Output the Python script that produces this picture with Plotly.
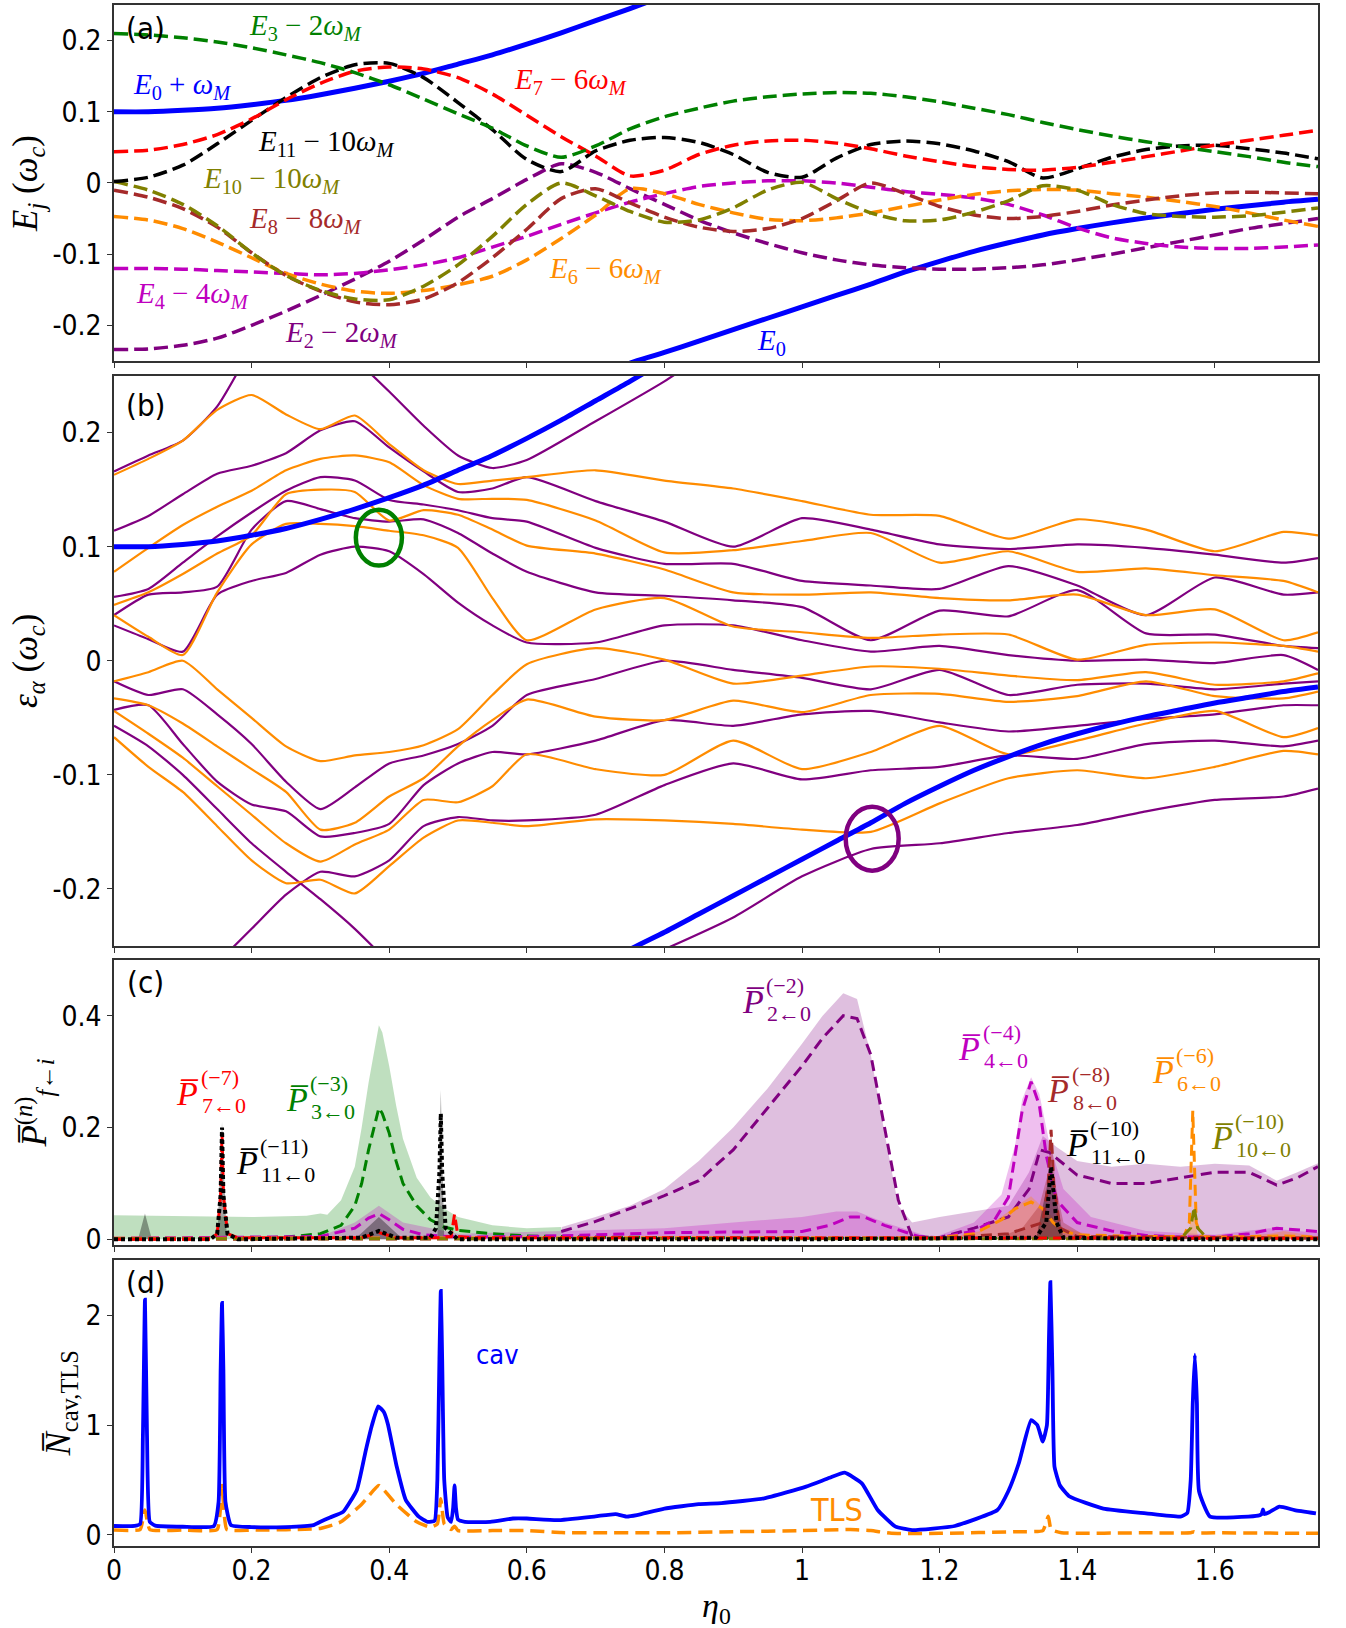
import plotly.graph_objects as go

# ======================= DATA =======================
# ---- panel (a): quasi-energies E_j - n*omega_M ----
ETA_A = [0.00, 0.05, 0.10, 0.15, 0.20, 0.25, 0.30, 0.35, 0.40, 0.45, 0.50, 0.55,
         0.60, 0.65, 0.70, 0.75, 0.80, 0.85, 0.90, 0.95, 1.00, 1.05, 1.10, 1.15,
         1.20, 1.25, 1.30, 1.35, 1.40, 1.45, 1.50, 1.55, 1.60, 1.65, 1.70, 1.75]
E3_2W = [0.210, 0.208, 0.204, 0.198, 0.190, 0.180, 0.169, 0.155, 0.138, 0.118, 0.097, 0.077,
         0.052, 0.036, 0.052, 0.076, 0.093, 0.105, 0.115, 0.121, 0.125, 0.127, 0.126, 0.121,
         0.114, 0.105, 0.096, 0.085, 0.075, 0.066, 0.058, 0.051, 0.044, 0.037, 0.029, 0.023]
E7_6W = [0.044, 0.046, 0.054, 0.068, 0.090, 0.117, 0.140, 0.157, 0.163, 0.160, 0.148, 0.125,
         0.095, 0.065, 0.038, 0.010, 0.018, 0.040, 0.053, 0.059, 0.060, 0.056, 0.048, 0.038,
         0.030, 0.023, 0.019, 0.018, 0.022, 0.029, 0.037, 0.045, 0.053, 0.060, 0.067, 0.074]
E11_10W = [0.002, 0.008, 0.025, 0.055, 0.088, 0.120, 0.148, 0.166, 0.168, 0.148, 0.113, 0.075,
           0.033, 0.016, 0.045, 0.060, 0.064, 0.057, 0.040, 0.015, 0.008, 0.035, 0.054, 0.059,
           0.055, 0.045, 0.030, 0.007, 0.020, 0.036, 0.047, 0.052, 0.053, 0.048, 0.042, 0.034]
E10_10W = [0.002, -0.010, -0.030, -0.060, -0.098, -0.130, -0.151, -0.163, -0.164, -0.145, -0.115, -0.075,
           -0.030, 0.000, -0.018, -0.040, -0.055, -0.052, -0.035, -0.010, 0.001, -0.022, -0.042, -0.053,
           -0.052, -0.041, -0.025, -0.004, -0.010, -0.030, -0.043, -0.047, -0.048, -0.046, -0.041, -0.035]
E8_8W = [-0.010, -0.020, -0.036, -0.062, -0.098, -0.130, -0.152, -0.167, -0.171, -0.163, -0.140, -0.105,
         -0.065, -0.022, -0.008, -0.028, -0.048, -0.062, -0.068, -0.064, -0.050, -0.025, 0.000, -0.015,
         -0.033, -0.045, -0.050, -0.047, -0.040, -0.031, -0.024, -0.018, -0.014, -0.013, -0.014, -0.015]
E6_6W = [-0.047, -0.052, -0.064, -0.083, -0.105, -0.127, -0.142, -0.152, -0.155, -0.151, -0.143, -0.131,
         -0.108, -0.078, -0.045, -0.008, -0.015, -0.030, -0.042, -0.051, -0.053, -0.049, -0.042, -0.033,
         -0.024, -0.016, -0.011, -0.009, -0.010, -0.015, -0.020, -0.026, -0.033, -0.042, -0.052, -0.061]
E4_4W = [-0.120, -0.120, -0.121, -0.123, -0.125, -0.127, -0.129, -0.127, -0.122, -0.115, -0.105, -0.090,
         -0.075, -0.058, -0.042, -0.027, -0.015, -0.005, 0.000, 0.003, 0.003, 0.000, -0.006, -0.012,
         -0.016, -0.021, -0.030, -0.045, -0.063, -0.077, -0.085, -0.090, -0.092, -0.092, -0.090, -0.087]
E2_2W = [-0.234, -0.233, -0.228, -0.218, -0.200, -0.180, -0.158, -0.135, -0.110, -0.080, -0.048, -0.022,
         0.005, 0.027, 0.015, -0.008, -0.030, -0.052, -0.070, -0.085, -0.098, -0.108, -0.115, -0.119,
         -0.121, -0.121, -0.119, -0.115, -0.108, -0.100, -0.091, -0.082, -0.073, -0.064, -0.057, -0.050]
E0_PLUS_X = [0.00, 0.05, 0.10, 0.15, 0.20, 0.25, 0.30, 0.35, 0.40, 0.45, 0.50, 0.55,
             0.60, 0.65, 0.70, 0.75, 0.80, 0.85, 0.90]
E0_PLUS_Y = [0.100, 0.100, 0.102, 0.105, 0.110, 0.116, 0.124, 0.133, 0.143, 0.154, 0.167, 0.180,
             0.195, 0.211, 0.228, 0.245, 0.263, 0.282, 0.300]
E0_X = [0.70, 0.75, 0.80, 0.85, 0.90, 0.95, 1.00, 1.05, 1.10, 1.15, 1.20,
        1.25, 1.30, 1.35, 1.40, 1.45, 1.50, 1.55, 1.60, 1.65, 1.70, 1.75]
E0_Y = [-0.270, -0.253, -0.238, -0.222, -0.206, -0.190, -0.174, -0.158, -0.142, -0.125, -0.110,
        -0.096, -0.084, -0.073, -0.064, -0.056, -0.049, -0.043, -0.037, -0.032, -0.027, -0.023]

# ---- panel (b): Floquet quasi-energies (two symmetry sectors) ----
ETA_B = [0.00, 0.05, 0.10, 0.15, 0.20, 0.25, 0.30, 0.35, 0.40, 0.45, 0.50, 0.55, 0.60,
         0.70, 0.80, 0.90, 1.00, 1.10, 1.20, 1.30, 1.40, 1.50, 1.60, 1.70, 1.75]
ORANGE_LEVELS = [
    [0.163, 0.177, 0.193, 0.220, 0.233, 0.216, 0.203, 0.215, 0.190, 0.167, 0.155, 0.158, 0.161,
     0.167, 0.158, 0.151, 0.140, 0.128, 0.127, 0.107, 0.124, 0.115, 0.096, 0.113, 0.110],
    [0.078, 0.099, 0.119, 0.135, 0.149, 0.167, 0.177, 0.180, 0.174, 0.154, 0.142, 0.142, 0.141,
     0.123, 0.095, 0.097, 0.105, 0.112, 0.086, 0.096, 0.078, 0.081, 0.075, 0.070, 0.060],
    [0.049, 0.060, 0.076, 0.094, 0.110, 0.146, 0.150, 0.148, 0.123, 0.132, 0.128, 0.115, 0.101,
     0.094, 0.080, 0.060, 0.058, 0.060, 0.055, 0.053, 0.058, 0.040, 0.045, 0.018, 0.025],
    [0.040, 0.021, 0.005, 0.060, 0.102, 0.120, 0.120, 0.118, 0.114, 0.110, 0.099, 0.055, 0.018,
     0.045, 0.055, 0.030, 0.025, 0.020, 0.023, 0.023, 0.001, 0.014, 0.016, 0.013, 0.008],
    [-0.018, -0.010, 0.000, -0.025, -0.050, -0.075, -0.088, -0.083, -0.080, -0.074, -0.060, -0.030, -0.003,
     0.011, 0.001, -0.020, -0.013, -0.005, -0.007, -0.013, -0.017, -0.010, -0.021, -0.018, -0.011],
    [-0.033, -0.039, -0.055, -0.075, -0.095, -0.115, -0.148, -0.142, -0.119, -0.103, -0.075, -0.052, -0.034,
     -0.049, -0.052, -0.035, -0.045, -0.030, -0.029, -0.036, -0.031, -0.018, -0.031, -0.033, -0.027],
    [-0.044, -0.064, -0.085, -0.110, -0.135, -0.160, -0.176, -0.161, -0.148, -0.122, -0.124, -0.110, -0.082,
     -0.095, -0.100, -0.070, -0.095, -0.080, -0.057, -0.082, -0.070, -0.055, -0.044, -0.067, -0.059],
    [-0.067, -0.093, -0.115, -0.145, -0.175, -0.195, -0.192, -0.204, -0.180, -0.155, -0.140, -0.142, -0.145,
     -0.139, -0.140, -0.143, -0.148, -0.150, -0.125, -0.103, -0.096, -0.103, -0.093, -0.079, -0.082],
]
PURPLE_LEVELS = [
    [0.114, 0.127, 0.146, 0.164, 0.171, 0.182, 0.202, 0.210, 0.187, 0.166, 0.148, 0.151, 0.161,
     0.140, 0.122, 0.100, 0.125, 0.115, 0.102, 0.098, 0.102, 0.099, 0.093, 0.086, 0.090],
    [0.056, 0.063, 0.086, 0.109, 0.130, 0.149, 0.161, 0.158, 0.141, 0.137, 0.132, 0.125, 0.122,
     0.099, 0.085, 0.085, 0.070, 0.066, 0.063, 0.083, 0.066, 0.040, 0.073, 0.058, 0.060],
    [0.040, 0.058, 0.060, 0.065, 0.115, 0.140, 0.133, 0.125, 0.122, 0.124, 0.112, 0.094, 0.078,
     0.060, 0.057, 0.053, 0.047, 0.018, 0.044, 0.039, 0.062, 0.024, 0.023, 0.013, 0.011],
    [0.031, 0.019, 0.008, 0.058, 0.070, 0.077, 0.093, 0.100, 0.096, 0.076, 0.051, 0.031, 0.016,
     0.016, 0.031, 0.031, 0.018, 0.008, 0.013, 0.005, 0.000, 0.001, -0.002, 0.005, -0.008],
    [-0.018, -0.030, -0.025, -0.047, -0.073, -0.106, -0.130, -0.111, -0.090, -0.083, -0.073, -0.057, -0.030,
     -0.016, 0.000, -0.008, -0.015, -0.025, -0.008, -0.030, -0.021, -0.020, -0.025, -0.020, -0.018],
    [-0.043, -0.039, -0.073, -0.106, -0.126, -0.132, -0.154, -0.151, -0.143, -0.109, -0.090, -0.080, -0.082,
     -0.070, -0.052, -0.057, -0.047, -0.044, -0.054, -0.062, -0.057, -0.051, -0.047, -0.039, -0.039],
    [None, None, None, -0.265, -0.235, -0.205, -0.185, -0.189, -0.175, -0.145, -0.137, -0.140, -0.140,
     -0.135, -0.109, -0.090, -0.104, -0.096, -0.093, -0.083, -0.086, -0.073, -0.070, -0.075, -0.070],
]
PURPLE_STEEP = [
    ([0.00, 0.05, 0.10, 0.15, 0.20, 0.25], [0.166, 0.180, 0.193, 0.223, 0.275, 0.330]),
    ([0.00, 0.05, 0.10, 0.15, 0.20, 0.25, 0.30, 0.35, 0.40],
     [-0.057, -0.075, -0.100, -0.130, -0.160, -0.185, -0.209, -0.235, -0.265]),
    ([0.35, 0.40, 0.45, 0.50, 0.55, 0.60, 0.70, 0.80, 0.85],
     [0.265, 0.236, 0.206, 0.180, 0.169, 0.176, 0.210, 0.245, 0.265]),
    ([0.80, 0.90, 1.00, 1.10, 1.20, 1.30, 1.40, 1.50, 1.60, 1.70, 1.75],
     [-0.253, -0.225, -0.189, -0.165, -0.160, -0.151, -0.144, -0.132, -0.122, -0.119, -0.112]),
]
# circled avoided crossings (centre eta, centre energy)
CIRCLE_GREEN = (0.385, 0.108)
CIRCLE_PURPLE = (1.102, -0.156)

# ---- panel (c): transition probabilities ----
P3_FILL_X = [0, 0.1, 0.2, 0.28, 0.30, 0.31, 0.33, 0.35, 0.36, 0.37, 0.38, 0.385, 0.39, 0.40, 0.41,
             0.42, 0.44, 0.46, 0.48, 0.50, 0.55, 0.60, 0.65, 0.651]
P3_FILL_Y = [0.043, 0.041, 0.040, 0.042, 0.046, 0.044, 0.070, 0.130, 0.200, 0.280, 0.350, 0.383, 0.370,
             0.310, 0.240, 0.180, 0.110, 0.075, 0.055, 0.040, 0.025, 0.020, 0.022, 0.0]
P3_X = [0, 0.20, 0.25, 0.30, 0.33, 0.35, 0.36, 0.37, 0.38, 0.385, 0.39, 0.40, 0.41, 0.42, 0.44, 0.46,
        0.48, 0.50, 0.55, 0.60, 0.70, 0.80, 1.00, 1.20, 1.40, 1.60, 1.75]
P3_Y = [0.001, 0.002, 0.004, 0.010, 0.025, 0.060, 0.100, 0.160, 0.210, 0.235, 0.225, 0.190, 0.140,
        0.100, 0.060, 0.035, 0.022, 0.016, 0.010, 0.006, 0.004, 0.003, 0.002, 0.002, 0.002, 0.002, 0.002]
P2_FILL_X = [0.65, 0.651, 0.70, 0.75, 0.80, 0.85, 0.90, 0.95, 1.00, 1.03, 1.06, 1.08, 1.10, 1.12, 1.14,
             1.16, 1.20, 1.25, 1.30, 1.33, 1.35, 1.37, 1.40, 1.45, 1.50, 1.55, 1.60, 1.65, 1.69, 1.72, 1.75]
P2_FILL_Y = [0.0, 0.022, 0.040, 0.060, 0.090, 0.140, 0.200, 0.270, 0.350, 0.400, 0.440, 0.430, 0.330,
             0.190, 0.060, 0.030, 0.040, 0.050, 0.060, 0.120, 0.185, 0.165, 0.140, 0.130, 0.135, 0.130,
             0.135, 0.132, 0.105, 0.120, 0.136]
P2_X = [0.65, 0.70, 0.75, 0.80, 0.85, 0.90, 0.95, 1.00, 1.03, 1.06, 1.08, 1.10, 1.12, 1.14, 1.16, 1.20,
        1.25, 1.30, 1.33, 1.346, 1.36, 1.38, 1.40, 1.45, 1.50, 1.55, 1.60, 1.65, 1.69, 1.72, 1.75]
P2_Y = [0.014, 0.032, 0.055, 0.078, 0.105, 0.160, 0.235, 0.310, 0.360, 0.400, 0.395, 0.330, 0.200,
        0.070, 0.005, 0.003, 0.020, 0.040, 0.090, 0.160, 0.155, 0.135, 0.115, 0.100, 0.100, 0.110,
        0.120, 0.120, 0.097, 0.110, 0.130]
P4_FILL_X = [0.30, 0.35, 0.385, 0.42, 0.50, 0.80, 0.90, 1.00, 1.05, 1.08, 1.12, 1.19, 1.25, 1.29, 1.31,
             1.32, 1.333, 1.345, 1.36, 1.38, 1.42, 1.50, 1.60, 1.68, 1.72, 1.75]
P4_FILL_Y = [0.005, 0.030, 0.060, 0.030, 0.010, 0.020, 0.030, 0.040, 0.050, 0.050, 0.030, 0.003, 0.030,
             0.080, 0.170, 0.250, 0.290, 0.260, 0.170, 0.090, 0.040, 0.015, 0.008, 0.020, 0.015, 0.012]
P4_X = [0, 0.30, 0.35, 0.37, 0.385, 0.40, 0.42, 0.45, 0.50, 0.60, 0.70, 0.80, 0.90, 1.00, 1.04, 1.07,
        1.09, 1.12, 1.17, 1.20, 1.25, 1.28, 1.30, 1.31, 1.32, 1.333, 1.345, 1.355, 1.37, 1.40, 1.45,
        1.50, 1.55, 1.60, 1.65, 1.69, 1.75]
P4_Y = [0.002, 0.005, 0.020, 0.038, 0.046, 0.035, 0.018, 0.008, 0.004, 0.005, 0.008, 0.012, 0.013,
        0.014, 0.025, 0.040, 0.040, 0.025, 0.005, 0.003, 0.015, 0.035, 0.075, 0.150, 0.230, 0.282,
        0.240, 0.150, 0.070, 0.030, 0.015, 0.007, 0.004, 0.004, 0.010, 0.020, 0.014]
P6_FILL_X = [1.20, 1.26, 1.30, 1.333, 1.36, 1.38, 1.42, 1.50, 1.56, 1.568, 1.576, 1.60, 1.68, 1.70, 1.75]
P6_FILL_Y = [0.0, 0.015, 0.050, 0.077, 0.045, 0.020, 0.008, 0.003, 0.003, 0.050, 0.003, 0.002, 0.010,
             0.015, 0.005]
P6_X = [0, 1.20, 1.25, 1.29, 1.31, 1.333, 1.35, 1.365, 1.38, 1.40, 1.50, 1.555, 1.563, 1.568, 1.573,
        1.58, 1.60, 1.70, 1.75]
P6_Y = [0.002, 0.003, 0.010, 0.035, 0.055, 0.067, 0.055, 0.030, 0.015, 0.008, 0.005, 0.005, 0.030,
        0.230, 0.030, 0.005, 0.004, 0.006, 0.004]
P11_FILL_X = [0, 0.035, 0.045, 0.055, 0.15, 0.157, 0.164, 0.35, 0.385, 0.42, 0.47, 0.475, 0.48, 0.49,
              1.34, 1.362, 1.38, 1.75]
P11_FILL_Y = [0, 0, 0.046, 0, 0, 0.210, 0, 0, 0.040, 0, 0, 0.267, 0, 0, 0, 0.130, 0, 0]
P11_X = [0, 0.14, 0.15, 0.155, 0.157, 0.159, 0.165, 0.18, 0.36, 0.385, 0.41, 0.46, 0.468, 0.473, 0.475,
         0.477, 0.482, 0.50, 1.00, 1.34, 1.355, 1.362, 1.37, 1.38, 1.55, 1.75]
P11_Y = [0, 0, 0.010, 0.080, 0.200, 0.080, 0.010, 0, 0.003, 0.015, 0.003, 0.003, 0.020, 0.120, 0.225,
         0.120, 0.020, 0, 0, 0.003, 0.030, 0.130, 0.030, 0.003, 0, 0]
P7_X = [0, 0.14, 0.15, 0.155, 0.157, 0.159, 0.165, 0.18, 0.36, 0.385, 0.41, 0.47, 0.49, 0.495, 0.50,
        0.52, 1.75]
P7_Y = [0, 0, 0.010, 0.080, 0.190, 0.080, 0.010, 0.003, 0.003, 0.012, 0.003, 0.003, 0.005, 0.045,
        0.005, 0.003, 0.002]
P8_FILL_X = [1.28, 1.32, 1.345, 1.358, 1.362, 1.368, 1.38, 1.42]
P8_FILL_Y = [0, 0.020, 0.060, 0.120, 0.200, 0.100, 0.030, 0]
P8_X = [0, 1.20, 1.30, 1.35, 1.358, 1.362, 1.366, 1.375, 1.40, 1.75]
P8_Y = [0, 0.002, 0.010, 0.030, 0.100, 0.196, 0.100, 0.020, 0.005, 0.002]
P10_X = [0, 1.55, 1.565, 1.57, 1.575, 1.59, 1.75]
P10_Y = [0.001, 0.001, 0.020, 0.058, 0.020, 0.001, 0.001]

# ---- panel (d): mean photon / excitation numbers ----
CAV_X = [0, 0.03, 0.038, 0.042, 0.045, 0.048, 0.052, 0.06, 0.10, 0.145, 0.152, 0.155, 0.157, 0.159,
         0.162, 0.17, 0.20, 0.25, 0.29, 0.30, 0.314, 0.333, 0.353, 0.366, 0.375, 0.384, 0.392, 0.398,
         0.411, 0.424, 0.443, 0.456, 0.466, 0.470, 0.473, 0.475, 0.477, 0.48, 0.485, 0.49, 0.493, 0.495,
         0.497, 0.50, 0.51, 0.547, 0.58, 0.60, 0.644, 0.70, 0.729, 0.745, 0.76, 0.80, 0.85, 0.883, 0.945,
         1.006, 1.04, 1.062, 1.087, 1.11, 1.136, 1.16, 1.222, 1.284, 1.30, 1.315, 1.333, 1.342, 1.35,
         1.356, 1.359, 1.361, 1.364, 1.367, 1.375, 1.389, 1.438, 1.50, 1.55, 1.56, 1.565, 1.568, 1.571,
         1.574, 1.577, 1.593, 1.66, 1.668, 1.67, 1.672, 1.68, 1.694, 1.716, 1.747]
CAV_Y = [0.082, 0.082, 0.10, 0.90, 2.14, 0.90, 0.12, 0.085, 0.075, 0.08, 0.30, 1.50, 2.11, 1.50,
         0.30, 0.09, 0.072, 0.072, 0.09, 0.12, 0.16, 0.21, 0.41, 0.77, 1.00, 1.17, 1.12, 1.01,
         0.62, 0.32, 0.167, 0.12, 0.13, 0.50, 1.60, 2.22, 1.60, 0.50, 0.16, 0.12, 0.25, 0.45,
         0.25, 0.14, 0.12, 0.12, 0.15, 0.15, 0.135, 0.17, 0.19, 0.167, 0.18, 0.24, 0.28, 0.29, 0.333,
         0.44, 0.52, 0.567, 0.47, 0.227, 0.076, 0.045, 0.082, 0.227, 0.40, 0.65, 1.045, 1.00, 0.85,
         1.00, 1.80, 2.30, 1.50, 0.62, 0.45, 0.35, 0.24, 0.197, 0.167, 0.20, 0.50, 1.20, 1.64,
         1.20, 0.40, 0.167, 0.173, 0.19, 0.233, 0.19, 0.21, 0.258, 0.227, 0.197]
TLS_X = [0, 0.038, 0.045, 0.052, 0.10, 0.15, 0.157, 0.164, 0.20, 0.30, 0.33, 0.36, 0.385, 0.41, 0.44,
         0.46, 0.47, 0.475, 0.48, 0.49, 0.495, 0.50, 0.55, 0.60, 0.65, 0.70, 0.80, 0.90, 1.00, 1.07,
         1.10, 1.13, 1.20, 1.315, 1.35, 1.358, 1.362, 1.377, 1.50, 1.565, 1.57, 1.575, 1.60, 1.75]
TLS_Y = [0.045, 0.05, 0.227, 0.05, 0.045, 0.05, 0.45, 0.05, 0.045, 0.06, 0.12, 0.28, 0.45, 0.28, 0.12,
         0.07, 0.10, 0.33, 0.10, 0.05, 0.08, 0.04, 0.04, 0.04, 0.022, 0.02, 0.02, 0.03, 0.04, 0.05,
         0.04, 0.015, 0.015, 0.03, 0.04, 0.17, 0.05, 0.02, 0.02, 0.02, 0.03, 0.02, 0.02, 0.015]

X_TICKS = [0, 0.2, 0.4, 0.6, 0.8, 1.0, 1.2, 1.4, 1.6]
X_TICKTEXT = ["0", "0.2", "0.4", "0.6", "0.8", "1", "1.2", "1.4", "1.6"]
E_TICKS = [-0.2, -0.1, 0, 0.1, 0.2]
E_TICKTEXT = ["-0.2", "-0.1", "0", "0.1", "0.2"]
P_TICKS = [0, 0.2, 0.4]
P_TICKTEXT = ["0", "0.2", "0.4"]
N_TICKS = [0, 1, 2]
N_TICKTEXT = ["0", "1", "2"]

# ======================= STYLE =======================
PURPLE = '#800080'; ORANGE = '#ff8c00'; BLUE = '#0000ff'; GREEN = '#008000'
RED = '#ff0000'; BLACK = '#000000'; OLIVE = '#808000'; BROWN = '#a52a2a'; MAGENTA = '#bf00bf'
SERIF = "Liberation Serif, DejaVu Serif, serif"
SANS = "Liberation Sans Narrow, DejaVu Sans Condensed, Liberation Sans, Arial, sans-serif"

fig = go.Figure()


def ax_names(k):
    return ('x', 'y') if k == 1 else (f'x{k}', f'y{k}')


def line(x, y, color, width, dash='solid', k=1, shape='spline', smooth=0.7):
    xa, ya = ax_names(k)
    ld = dict(color=color, width=width, dash=dash, shape=shape)
    if shape == 'spline':
        ld['smoothing'] = smooth
    fig.add_trace(go.Scatter(x=x, y=y, mode='lines', xaxis=xa, yaxis=ya, line=ld,
                             showlegend=False, hoverinfo='skip'))


def fill(x, y, rgba, k=3):
    xa, ya = ax_names(k)
    fig.add_trace(go.Scatter(x=x, y=y, mode='lines', xaxis=xa, yaxis=ya, fill='tozeroy',
                             fillcolor=rgba, line=dict(width=0, color=rgba),
                             showlegend=False, hoverinfo='skip'))


# ---- panel (a) ----
DASH_A = '14px,6px'
line(E0_PLUS_X, E0_PLUS_Y, BLUE, 5, k=1)
line(E0_X, E0_Y, BLUE, 5, k=1)
for ys, col in [(E2_2W, PURPLE), (E4_4W, MAGENTA), (E6_6W, ORANGE), (E8_8W, BROWN),
                (E10_10W, OLIVE), (E11_10W, BLACK), (E7_6W, RED), (E3_2W, GREEN)]:
    line(ETA_A, ys, col, 3.5, DASH_A, k=1)

# ---- panel (b) ----
for lev in PURPLE_LEVELS:
    line(ETA_B, lev, PURPLE, 2.2, k=2, smooth=0.6)
for xs, ys in PURPLE_STEEP:
    line(xs, ys, PURPLE, 2.2, k=2, smooth=0.6)
for lev in ORANGE_LEVELS:
    line(ETA_B, lev, ORANGE, 2.2, k=2, smooth=0.6)
line(E0_PLUS_X, E0_PLUS_Y, BLUE, 5, k=2)
line(E0_X, E0_Y, BLUE, 5, k=2)

# ---- panel (c) ----
fill(P3_FILL_X, P3_FILL_Y, 'rgba(0,128,0,0.25)')
fill(P2_FILL_X, P2_FILL_Y, 'rgba(128,0,128,0.25)')
fill(P4_FILL_X, P4_FILL_Y, 'rgba(191,0,191,0.25)')
fill(P6_FILL_X, P6_FILL_Y, 'rgba(255,140,0,0.30)')
fill(P8_FILL_X, P8_FILL_Y, 'rgba(165,42,42,0.35)')
fill(P11_FILL_X, P11_FILL_Y, 'rgba(0,0,0,0.35)')
DASH_C = '11px,6px'
line(P2_X, P2_Y, PURPLE, 3, DASH_C, k=3, shape='linear')
line(P3_X, P3_Y, GREEN, 3, DASH_C, k=3, shape='linear')
line(P4_X, P4_Y, MAGENTA, 3, DASH_C, k=3, shape='linear')
line(P6_X, P6_Y, ORANGE, 3, DASH_C, k=3, shape='linear')
line(P8_X, P8_Y, BROWN, 3, DASH_C, k=3, shape='linear')
line(P10_X, P10_Y, OLIVE, 3, DASH_C, k=3, shape='linear')
line(P7_X, P7_Y, RED, 3, DASH_C, k=3, shape='linear')
line(P11_X, P11_Y, BLACK, 4, '4px,3px', k=3, shape='linear')

# ---- panel (d) ----
line(TLS_X, TLS_Y, ORANGE, 3.5, '14px,7px', k=4, shape='spline', smooth=0.4)
line(CAV_X, CAV_Y, BLUE, 3.8, k=4, shape='spline', smooth=0.4)

# ======================= ANNOTATIONS =======================
def ann(text, x, y, k, color, size, family=SERIF, **kw):
    xa, ya = ax_names(k)
    fig.add_annotation(text=text, x=x, y=y, xref=xa, yref=ya, showarrow=False,
                       font=dict(family=family, size=size, color=color), **kw)


A_LABELS = [
    ("<i>E</i><sub>3</sub> − 2<i>ω</i><sub><i>M</i></sub>", 0.278, 0.219, GREEN),
    ("<i>E</i><sub>0</sub> + <i>ω</i><sub><i>M</i></sub>", 0.099, 0.136, BLUE),
    ("<i>E</i><sub>7</sub> − 6<i>ω</i><sub><i>M</i></sub>", 0.664, 0.143, RED),
    ("<i>E</i><sub>11</sub> − 10<i>ω</i><sub><i>M</i></sub>", 0.309, 0.056, BLACK),
    ("<i>E</i><sub>10</sub> − 10<i>ω</i><sub><i>M</i></sub>", 0.229, 0.004, OLIVE),
    ("<i>E</i><sub>8</sub> − 8<i>ω</i><sub><i>M</i></sub>", 0.278, -0.052, BROWN),
    ("<i>E</i><sub>6</sub> − 6<i>ω</i><sub><i>M</i></sub>", 0.715, -0.122, ORANGE),
    ("<i>E</i><sub>4</sub> − 4<i>ω</i><sub><i>M</i></sub>", 0.114, -0.157, MAGENTA),
    ("<i>E</i><sub>2</sub> − 2<i>ω</i><sub><i>M</i></sub>", 0.331, -0.212, PURPLE),
    ("<i>E</i><sub>0</sub>", 0.955, -0.223, BLUE),
]
for txt, x, y, col in A_LABELS:
    ann(txt, x, y, 1, col, 29)

P_LABELS = [
    (0.107, 0.260, "(−7)", "7←0", RED),
    (0.266, 0.251, "(−3)", "3←0", GREEN),
    (0.194, 0.138, "(−11)", "11←0", BLACK),
    (0.929, 0.426, "(−2)", "2←0", PURPLE),
    (1.244, 0.342, "(−4)", "4←0", MAGENTA),
    (1.373, 0.266, "(−8)", "8←0", BROWN),
    (1.400, 0.170, "(−10)", "11←0", BLACK),
    (1.525, 0.300, "(−6)", "6←0", ORANGE),
    (1.611, 0.183, "(−10)", "10←0", OLIVE),
]
for x, y, sup, sub, col in P_LABELS:
    ann("<i>P\u0305</i>", x, y, 3, col, 34)
    ann(sup, x, y, 3, col, 22, xanchor='left', xshift=11, yshift=16)
    ann(sub, x, y, 3, col, 22, xanchor='left', xshift=12, yshift=-12)

ann("cav", 0.557, 1.64, 4, BLUE, 27, family=SANS)
ann("TLS", 1.05, 0.227, 4, ORANGE, 32, family=SANS)

# x-axis title placed below the tick labels of the lowest panel
fig.add_annotation(text="<i>η</i><sub>0</sub>", x=0.5, y=-0.040, xref='paper', yref='paper',
                   showarrow=False, yanchor='middle',
                   font=dict(family=SERIF, size=34, color='black'))

PANEL_TAGS = [("(a)", 1, 0.935), ("(b)", 2, 0.948), ("(c)", 3, 0.924), ("(d)", 4, 0.923)]
for tag, k, yy in PANEL_TAGS:
    xa, ya = ax_names(k)
    fig.add_annotation(text=tag, x=0.026, y=yy, xref=f'{xa} domain', yref=f'{ya} domain',
                       showarrow=False, xanchor='center', yanchor='middle',
                       font=dict(family=SANS, size=31, color='black'))

# circled avoided crossings
for (cx, cy), col, rx, ry in [(CIRCLE_GREEN, GREEN, 0.0335, 0.0245),
                              (CIRCLE_PURPLE, PURPLE, 0.0385, 0.028)]:
    fig.add_shape(type='circle', xref='x2', yref='y2', x0=cx - rx, x1=cx + rx,
                  y0=cy - ry, y1=cy + ry, line=dict(color=col, width=4.5))

# ======================= LAYOUT =======================
DOM = {1: [0.769, 1.0], 2: [0.3894, 0.7595], 3: [0.1953, 0.3803], 4: [0.0, 0.1859]}
YR = {1: [-0.25, 0.25], 2: [-0.25, 0.25], 3: [-0.0102, 0.4997], 4: [-0.10, 2.505]}
YT = {1: (E_TICKS, E_TICKTEXT), 2: (E_TICKS, E_TICKTEXT), 3: (P_TICKS, P_TICKTEXT),
      4: (N_TICKS, N_TICKTEXT)}
YTITLE = {1: "<i>E<sub>j</sub></i> (<i>ω<sub>c</sub></i>)",
          2: "<i>ε<sub>α</sub></i> (<i>ω<sub>c</sub></i>)",
          3: "<i>P\u0305</i><sup>(<i>n</i>)</sup><sub><i>f</i>←<i>i</i></sub>",
          4: "<i>N\u0305</i><sub>cav,TLS</sub>"}
common = dict(showline=True, linecolor='#333333', linewidth=1.6, mirror=True, ticks='outside',
              ticklen=5, tickwidth=1.3, tickcolor='#333333', showgrid=False, zeroline=False,
              tickfont=dict(family=SANS, size=28, color='black'))
lay = {}
for k in range(1, 5):
    xn = 'xaxis' if k == 1 else f'xaxis{k}'
    yn = 'yaxis' if k == 1 else f'yaxis{k}'
    xa, ya = ax_names(k)
    xd = dict(common, domain=[0, 1], range=[0, 1.75], anchor=ya, tickvals=X_TICKS,
              ticktext=X_TICKTEXT, showticklabels=(k == 4), ticklabelstandoff=-6)
    if k != 4:
        xd['matches'] = 'x4'
    yd = dict(common, domain=DOM[k], range=YR[k], anchor=xa, tickvals=YT[k][0],
              ticktext=YT[k][1], title=dict(text=YTITLE[k],
                                              font=dict(family=SERIF, size=35, color='black'),
                                              standoff=4))
    lay[xn] = xd
    lay[yn] = yd

fig.update_layout(width=1346, height=1628, margin=dict(l=114, r=28, t=5, b=82, autoexpand=False),
                  plot_bgcolor='white', paper_bgcolor='white', showlegend=False,
                  font=dict(color='black'), **lay)

fig.write_html("out.html", config={'displayModeBar': False},
               post_script="document.body.style.margin='0px';")
